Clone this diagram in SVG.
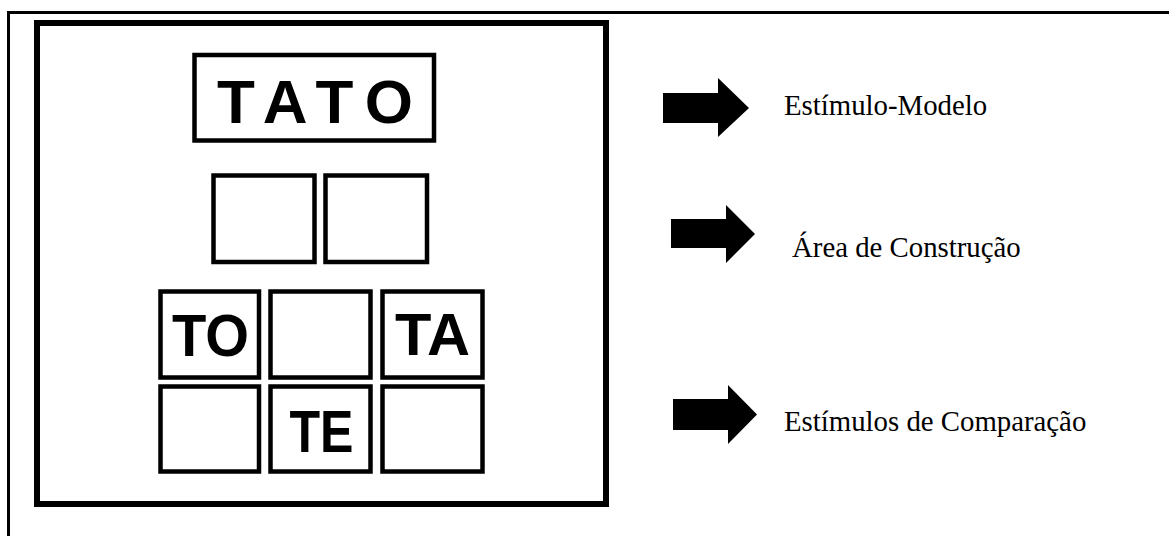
<svg xmlns="http://www.w3.org/2000/svg" width="1169" height="536" viewBox="0 0 1169 536">
  <style>
    .frame { fill: none; stroke: #000; }
    .cell { fill: #fff; stroke: #000; stroke-width: 4.5; }
    .word { font-family: "Liberation Sans", Arial, sans-serif; font-weight: bold; fill: #000; }
    .label { font-family: "Liberation Serif", "Times New Roman", serif; font-size: 28.8px; fill: #000; }
    .arrow { fill: #000; }
  </style>
  <rect width="1169" height="536" fill="#fff"/>

  <!-- page frame (top and left rules) -->
  <path class="frame" d="M8.5 536 V12.5 H1169" stroke-width="3"/>

  <!-- task screen -->
  <g id="screen">
    <rect class="frame" x="37" y="23" width="569" height="481" stroke-width="6"/>
  </g>

  <!-- sample stimulus -->
  <g id="sample">
    <rect class="cell" x="194.5" y="55" width="239.5" height="85.5" stroke-width="5"/>
    <text class="word" x="217" y="122.5" font-size="62" textLength="196" lengthAdjust="spacing">TATO</text>
  </g>

  <!-- construction area -->
  <g id="build-1"><rect class="cell" x="213.5" y="175.5" width="101" height="86.5"/></g>
  <g id="build-2"><rect class="cell" x="325.5" y="175.5" width="101.5" height="86.5"/></g>

  <!-- comparison stimuli -->
  <g id="cmp-1">
    <rect class="cell" x="160.5" y="291.5" width="98.5" height="86"/>
    <text class="word" x="172" y="356" font-size="60" textLength="77" lengthAdjust="spacingAndGlyphs">TO</text>
  </g>
  <g id="cmp-2"><rect class="cell" x="270.5" y="291.5" width="100" height="86"/></g>
  <g id="cmp-3">
    <rect class="cell" x="382.5" y="291.5" width="100" height="86"/>
    <text class="word" x="395" y="355" font-size="60" textLength="75" lengthAdjust="spacingAndGlyphs">TA</text>
  </g>
  <g id="cmp-4"><rect class="cell" x="160.5" y="386.5" width="98.5" height="85"/></g>
  <g id="cmp-5">
    <rect class="cell" x="270.5" y="386.5" width="100" height="85"/>
    <text class="word" x="289.5" y="451.5" font-size="60" textLength="64" lengthAdjust="spacingAndGlyphs">TE</text>
  </g>
  <g id="cmp-6"><rect class="cell" x="382.5" y="386.5" width="100" height="85"/></g>

  <!-- legend arrows -->
  <g id="connectors">
    <polygon class="arrow" points="663,93 718,93 718,78 749,108 718,137 718,123 663,123"/>
    <polygon class="arrow" points="671,219 726,219 726,205 755,234 726,263 726,248 671,248"/>
    <polygon class="arrow" points="673,399 728,399 728,385 757,414.5 728,444 728,430 673,430"/>
  </g>

  <!-- legend labels -->
  <g id="legend-sample"><text class="label" x="784" y="115">Estímulo-Modelo</text></g>
  <g id="legend-build"><text class="label" x="792" y="257">Área de Construção</text></g>
  <g id="legend-compare"><text class="label" x="784" y="431">Estímulos de Comparação</text></g>
</svg>
